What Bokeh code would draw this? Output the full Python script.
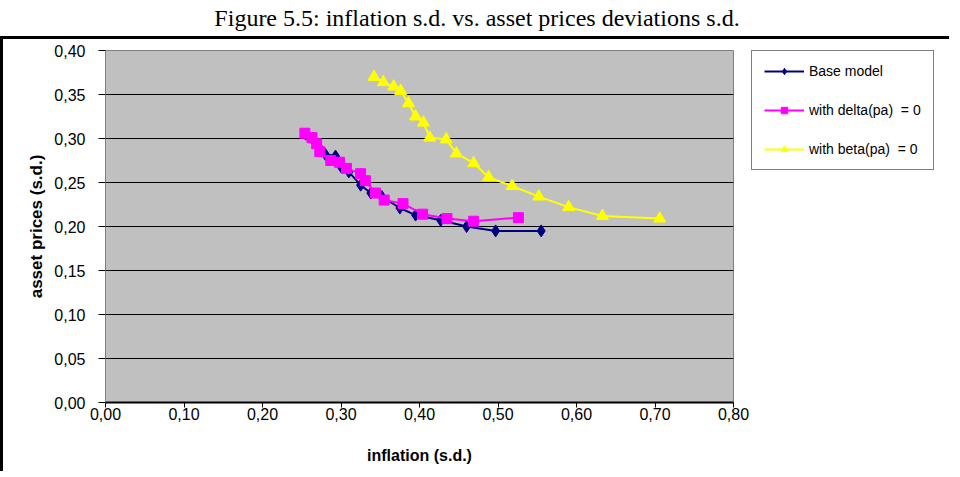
from bokeh.plotting import figure
from bokeh.models import Range1d, FixedTicker, CustomJSTickFormatter, Legend, LegendItem, Div
from bokeh.layouts import column, row
from bokeh.embed import file_html
from bokeh.resources import INLINE

title_text = "Figure 5.5: inflation s.d. vs. asset prices deviations s.d."
x_label = "inflation (s.d.)"
y_label = "asset prices (s.d.)"
x_ticks = [0.0, 0.1, 0.2, 0.3, 0.4, 0.5, 0.6, 0.7, 0.8]
y_ticks = [0.0, 0.05, 0.10, 0.15, 0.20, 0.25, 0.30, 0.35, 0.40]

series_names = ["Base model", "with delta(pa)  = 0", "with beta(pa)  = 0"]
series_colors = ["#000080", "#FF00FF", "#FFFF00"]
series_markers = ["diamond", "square", "triangle"]

base_infl = [0.255, 0.265, 0.272, 0.280, 0.293, 0.300, 0.310, 0.325, 0.338,
             0.352, 0.375, 0.395, 0.427, 0.460, 0.497, 0.555]
base_asset = [0.305, 0.298, 0.290, 0.282, 0.280, 0.268, 0.262, 0.247, 0.238,
              0.234, 0.221, 0.213, 0.207, 0.200, 0.195, 0.195]

delta_infl = [0.254, 0.263, 0.269, 0.273, 0.287, 0.298, 0.307, 0.325, 0.331,
              0.344, 0.355, 0.379, 0.404, 0.435, 0.469, 0.526]
delta_asset = [0.306, 0.301, 0.294, 0.285, 0.275, 0.273, 0.266, 0.260, 0.252,
               0.238, 0.230, 0.226, 0.214, 0.209, 0.206, 0.210]

beta_infl = [0.342, 0.354, 0.367, 0.376, 0.386, 0.395, 0.405, 0.413, 0.434,
             0.447, 0.469, 0.488, 0.518, 0.552, 0.590, 0.633, 0.706]
beta_asset = [0.370, 0.364, 0.359, 0.354, 0.340, 0.325, 0.318, 0.301, 0.299,
              0.283, 0.272, 0.256, 0.246, 0.234, 0.222, 0.212, 0.209]

series = [(base_infl, base_asset), (delta_infl, delta_asset), (beta_infl, beta_asset)]
marker_sizes = [12, 10, 12]

p = figure(width=748, height=432,
           x_range=Range1d(0, 0.8), y_range=Range1d(0, 0.4),
           output_backend="svg", toolbar_location=None,
           min_border_left=102, min_border_right=18,
           min_border_top=10, min_border_bottom=69,
           background_fill_color="#C0C0C0", border_fill_color="white")

p.outline_line_color = "#808080"
p.outline_line_width = 1
p.xgrid.visible = False
p.ygrid.grid_line_color = "black"
p.ygrid.grid_line_width = 1
p.ygrid.ticker = FixedTicker(ticks=y_ticks)

fmt = CustomJSTickFormatter(code="return tick.toFixed(2).replace('.', ',');")

for ax, ticks in ((p.xaxis[0], x_ticks), (p.yaxis[0], y_ticks)):
    ax.ticker = FixedTicker(ticks=ticks)
    ax.formatter = fmt
    ax.major_label_text_font = "Liberation Sans"
    ax.major_label_text_font_size = "16px"
    ax.major_label_text_color = "black"
    ax.major_tick_in = 0
    ax.minor_tick_line_color = None
    ax.major_tick_line_color = "black"
    ax.axis_label_text_font = "Liberation Sans"
    ax.axis_label_text_font_style = "bold"
    ax.axis_label_text_color = "black"

p.xaxis.axis_label = x_label
p.xaxis.axis_label_text_font_size = "16px"
p.xaxis.major_tick_out = 5
p.xaxis.major_label_standoff = 0
p.xaxis.axis_label_standoff = 24
p.xaxis.axis_line_color = "black"
p.xaxis.axis_line_width = 2

p.yaxis.axis_label = y_label
p.yaxis.axis_label_text_font_size = "17px"
p.yaxis.major_tick_out = 7
p.yaxis.major_label_standoff = 13
p.yaxis.axis_label_standoff = 5
p.yaxis.axis_line_color = "#808080"

for (xs, ys), c, m, s in zip(series, series_colors, series_markers, marker_sizes):
    p.line(xs, ys, line_color=c, line_width=2)
    p.scatter(xs, ys, marker=m, size=s, fill_color=c, line_color=c)

# legend panel to the right of the plot area; its proxy renderers use the
# series data but lie outside this panel's visible range
pl = figure(width=198, height=432, x_range=Range1d(10, 11), y_range=Range1d(10, 11),
            output_backend="svg", toolbar_location=None,
            x_axis_type=None, y_axis_type=None,
            min_border_left=0, min_border_right=0,
            min_border_top=11, min_border_bottom=0,
            background_fill_color="white", border_fill_color="white")
pl.outline_line_color = None
pl.grid.visible = False

items = []
for name, (xs, ys), c, m in zip(series_names, series, series_colors, series_markers):
    lr = pl.line(xs, ys, line_color=c, line_width=2)
    sr = pl.scatter(xs, ys, marker=m, size=8, fill_color=c, line_color=c)
    items.append(LegendItem(label=name, renderers=[lr, sr]))

legend = Legend(items=items, location="top_left")
legend.border_line_color = "black"
legend.border_line_width = 1
legend.background_fill_color = "white"
legend.background_fill_alpha = 1
legend.label_text_font = "Liberation Sans"
legend.label_text_font_size = "14px"
legend.label_text_color = "black"
legend.glyph_width = 40
legend.glyph_height = 16
legend.label_height = 16
legend.label_standoff = 5
legend.padding = 12
legend.spacing = 23
legend.margin = 0
pl.add_layout(legend)

title = Div(text=title_text, width=944, height=26,
            styles={"font-family": "'Liberation Serif', serif", "font-size": "24px",
                    "text-align": "center", "line-height": "26px", "color": "black"})

body = row(p, pl, spacing=0,
           styles={"border-left": "3px solid black", "border-top": "3px solid black"})

layout = column(title, body, spacing=0)

open("out.html", "w").write(file_html(layout, INLINE))
